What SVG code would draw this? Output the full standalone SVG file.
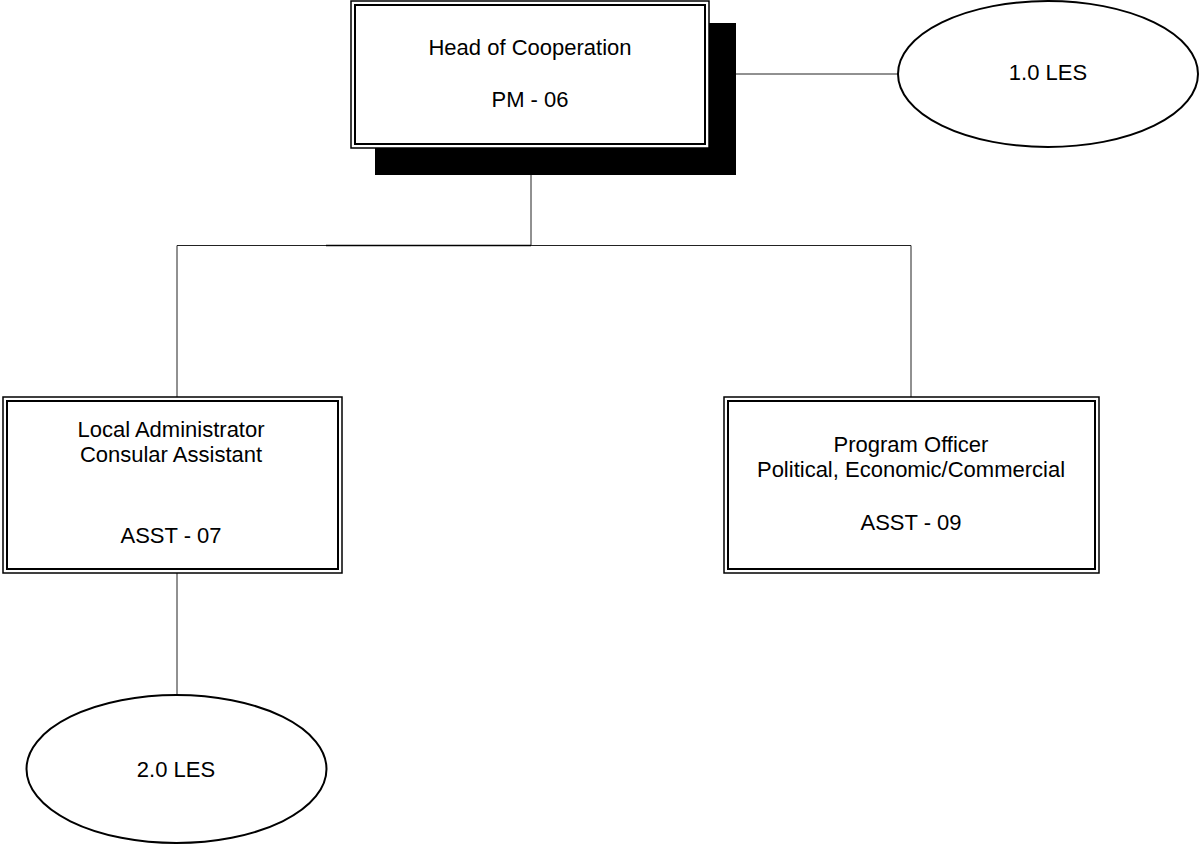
<svg xmlns="http://www.w3.org/2000/svg" width="1199" height="845" viewBox="0 0 1199 845">
<style>
.outer{fill:#fff;stroke:#000;stroke-width:1.5}
.inner{fill:none;stroke:#000;stroke-width:2}
.ell{fill:#fff;stroke:#000;stroke-width:2}
.conn{fill:none;stroke:#222;stroke-width:1}
text{font-family:"Liberation Sans",Arial,sans-serif;font-size:22px;fill:#000;text-anchor:middle}
</style>
<g id="connectors">
<line class="conn" x1="531" y1="175" x2="531" y2="245.5"/>
<line class="conn" x1="177" y1="245.5" x2="911" y2="245.5"/>
<line x1="326" y1="245.5" x2="531" y2="245.5" stroke="#000" stroke-width="1.6"/>
<line class="conn" x1="177" y1="245.5" x2="177" y2="397"/>
<line class="conn" x1="911" y1="245.5" x2="911" y2="397"/>
<line class="conn" x1="736" y1="74" x2="898" y2="74"/>
<line class="conn" x1="177" y1="573" x2="177" y2="695"/>
</g>
<g id="head">
<rect x="375" y="23" width="361" height="152" fill="#000"/>
<rect class="outer" x="351" y="1" width="358" height="147"/>
<rect class="inner" x="355" y="5" width="350" height="139"/>
<text x="530" y="55">Head of Cooperation</text>
<text x="530" y="107">PM - 06</text>
</g>
<g id="les1">
<ellipse class="ell" cx="1048" cy="74" rx="150" ry="73"/>
<text x="1048" y="80">1.0 LES</text>
</g>
<g id="local-admin">
<rect class="outer" x="3" y="397" width="339" height="176"/>
<rect class="inner" x="7" y="401" width="331" height="168"/>
<text x="171" y="437">Local Administrator</text>
<text x="171" y="462">Consular Assistant</text>
<text x="171" y="543">ASST - 07</text>
</g>
<g id="program-officer">
<rect class="outer" x="724" y="397" width="375" height="176"/>
<rect class="inner" x="728" y="401" width="367" height="168"/>
<text x="911" y="452">Program Officer</text>
<text x="911" y="477">Political, Economic/Commercial</text>
<text x="911" y="530">ASST - 09</text>
</g>
<g id="les2">
<ellipse class="ell" cx="176.5" cy="769" rx="150" ry="74"/>
<text x="176" y="777">2.0 LES</text>
</g>
</svg>
